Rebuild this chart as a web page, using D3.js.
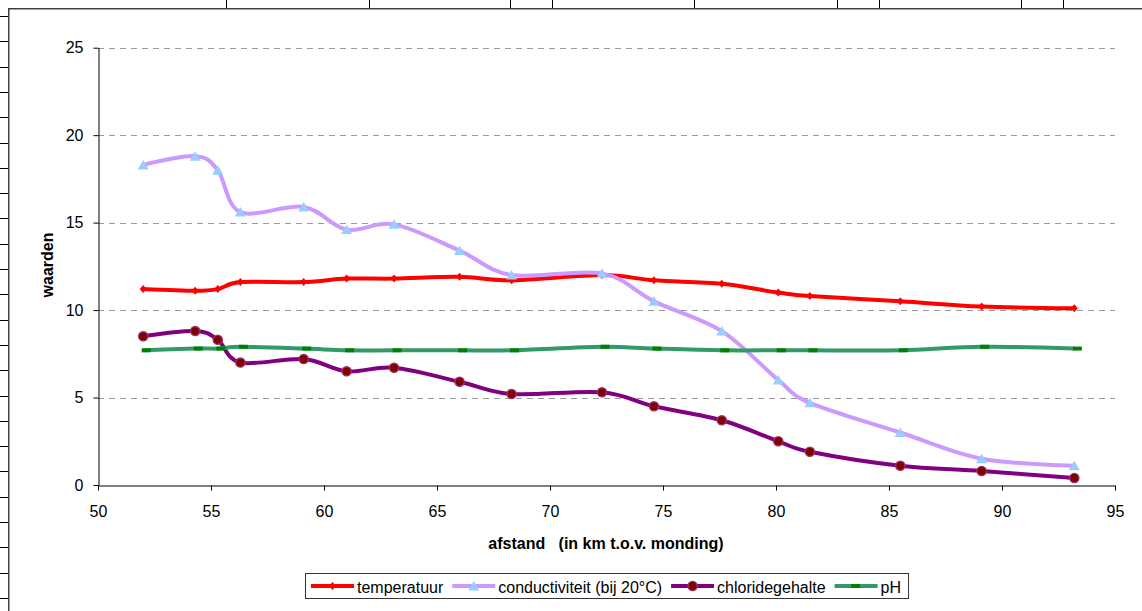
<!DOCTYPE html>
<html>
<head>
<meta charset="utf-8">
<script src="https://cdn.jsdelivr.net/npm/d3@7"></script>
<style>
  html, body { margin: 0; padding: 0; background: #fff; }
  svg { display: block; font-family: "Liberation Sans", Arial, sans-serif; }
</style>
</head>
<body>
<svg id="chart" width="1142" height="611"></svg>
<script>
// ---- data ----
const distance     = [52.0, 54.3, 55.3, 56.3, 59.1, 61.0, 63.1, 66.0, 68.3, 72.3, 74.6, 77.6, 80.1, 81.5, 85.5, 89.1, 93.2];
const temperatuur  = [11.2, 11.1, 11.2, 11.6, 11.6, 11.8, 11.8, 11.9, 11.7, 12.0, 11.7, 11.5, 11.0, 10.8, 10.5, 10.2, 10.1];
const conductiviteit = [18.3, 18.8, 18.0, 15.6, 15.9, 14.6, 14.9, 13.4, 12.0, 12.1, 10.5, 8.8, 6.0, 4.7, 3.0, 1.5, 1.1];
const chloride     = [8.5, 8.8, 8.3, 7.0, 7.2, 6.5, 6.7, 5.9, 5.2, 5.3, 4.5, 3.7, 2.5, 1.9, 1.1, 0.8, 0.4];
const pH           = [7.7, 7.8, 7.8, 7.9, 7.8, 7.7, 7.7, 7.7, 7.7, 7.9, 7.8, 7.7, 7.7, 7.7, 7.7, 7.9, 7.8];
const seriesNames  = ["temperatuur", "conductiviteit (bij 20°C)", "chloridegehalte", "pH"];
const xTicks = [50, 55, 60, 65, 70, 75, 80, 85, 90, 95];
const yTicks = [0, 5, 10, 15, 20, 25];
const yTitle = "waarden";
const xTitle = "afstand\u00a0\u00a0\u00a0(in km t.o.v. monding)";

const svg = d3.select("#chart");

// ---- spreadsheet background cells ----
const cellX = [226, 369, 510, 552, 694, 837, 879, 1021, 1063];
svg.append("g").selectAll("line").data(cellX).join("line")
  .attr("x1", d => d + 0.5).attr("x2", d => d + 0.5).attr("y1", 0).attr("y2", 8)
  .attr("stroke", "#000").attr("stroke-width", 1);
const rowY = d3.range(0, 24).map(i => Math.round(16 + i * 25.3));
svg.append("g").selectAll("line").data(rowY).join("line")
  .attr("x1", 0).attr("x2", 8).attr("y1", d => d + 0.5).attr("y2", d => d + 0.5)
  .attr("stroke", "#000").attr("stroke-width", 1);

// chart area border (top + left visible)
svg.append("rect").attr("x", 8.75).attr("y", 8.75).attr("width", 1200).attr("height", 700)
  .attr("fill", "#fff").attr("stroke", "#404040").attr("stroke-width", 1.5);

// ---- scales ----
const x = d3.scaleLinear().domain([50, 95]).range([98, 1115]);
const y = d3.scaleLinear().domain([0, 25]).range([485, 47.7]);

// gridlines
svg.append("g").selectAll("line").data(yTicks.filter(d => d > 0)).join("line")
  .attr("x1", x(50)).attr("x2", x(95))
  .attr("y1", d => Math.round(y(d)) + 0.5).attr("y2", d => Math.round(y(d)) + 0.5)
  .attr("stroke", "#999").attr("stroke-width", 1).attr("stroke-dasharray", "6,5");

// axes
const xAxis = svg.append("g").attr("transform", `translate(0,${Math.round(y(0)) + 0.5})`)
  .call(d3.axisBottom(x).tickValues(xTicks).tickSize(5).tickSizeOuter(0).tickPadding(15).tickFormat(d3.format("d")));
const yAxis = svg.append("g").attr("transform", `translate(${Math.round(x(50)) + 0.5},0)`)
  .call(d3.axisLeft(y).tickValues(yTicks).tickSize(5).tickSizeOuter(0).tickPadding(10).tickFormat(d3.format("d")));
[xAxis, yAxis].forEach(g => {
  g.selectAll("text").attr("font-size", 16).attr("fill", "#000")
    .attr("font-family", "'Liberation Sans', Arial, sans-serif");
  g.selectAll("line, path").attr("stroke", "#000").attr("stroke-width", 1);
});

// axis titles
svg.append("text").attr("x", 606).attr("y", 549).attr("text-anchor", "middle")
  .attr("font-size", 16).attr("font-weight", "bold").text(xTitle);
svg.append("text").attr("transform", "translate(53,265) rotate(-90)").attr("text-anchor", "middle")
  .attr("font-size", 16).attr("font-weight", "bold").text(yTitle);

// ---- series ----
const series = [
  { name: seriesNames[0], values: temperatuur,   line: "#FF0000", marker: "diamond",  mfill: "#FF0000" },
  { name: seriesNames[1], values: conductiviteit, line: "#CC99FF", marker: "triangle", mfill: "#99CCFF" },
  { name: seriesNames[2], values: chloride,      line: "#800080", marker: "circle",   mfill: "#800000" },
  { name: seriesNames[3], values: pH,            line: "#339966", marker: "dash",     mfill: "#008000" }
];

const lineGen = d3.line().x(d => x(d[0])).y(d => y(d[1])).curve(d3.curveCardinal.tension(0));

function drawMarker(g, type, fill, cx, cy) {
  if (type === "diamond") {
    g.append("path").attr("d", `M${cx},${cy - 4}L${cx + 3.5},${cy}L${cx},${cy + 4}L${cx - 3.5},${cy}Z`)
      .attr("fill", fill);
  } else if (type === "triangle") {
    g.append("path").attr("d", `M${cx},${cy - 5}L${cx + 5.5},${cy + 4.5}L${cx - 5.5},${cy + 4.5}Z`)
      .attr("fill", fill);
  } else if (type === "circle") {
    g.append("circle").attr("cx", cx).attr("cy", cy).attr("r", 4.6)
      .attr("fill", fill).attr("stroke", "#993366").attr("stroke-width", 1.4);
  } else if (type === "dash") {
    g.append("rect").attr("x", cx - 1.5).attr("y", cy - 2).attr("width", 9).attr("height", 4)
      .attr("fill", fill);
  }
}

series.forEach(s => {
  const pts = distance.map((d, i) => [d, s.values[i]]);
  const g = svg.append("g");
  g.append("path").attr("d", lineGen(pts)).attr("fill", "none")
    .attr("stroke", s.line).attr("stroke-width", 4).attr("stroke-linejoin", "round");
  pts.forEach(p => drawMarker(g, s.marker, s.mfill, x(p[0]), y(p[1])));
});

// ---- legend ----
const legend = svg.append("g");
const box = legend.append("rect").attr("fill", "#fff").attr("stroke", "#333").attr("stroke-width", 1);
let cur = 0;
const items = [];
series.forEach(s => {
  const ig = legend.append("g").attr("transform", `translate(${cur},0)`);
  ig.append("line").attr("x1", 0).attr("x2", 43).attr("y1", 0).attr("y2", 0)
    .attr("stroke", s.line).attr("stroke-width", 4);
  drawMarker(ig, s.marker, s.mfill, s.marker === "dash" ? 18 : 21.5, 0);
  const t = ig.append("text").attr("x", 46).attr("y", 7).attr("font-size", 16).attr("fill", "#000").text(s.name);
  const w = t.node().getComputedTextLength();
  cur += 46 + w + 9;
});
const totalW = cur - 9;
const lx = Math.round(606 - totalW / 2);
legend.attr("transform", `translate(${lx},586)`);
box.attr("x", -5.5).attr("y", -12.5).attr("width", totalW + 13).attr("height", 25);
</script>
</body>
</html>
